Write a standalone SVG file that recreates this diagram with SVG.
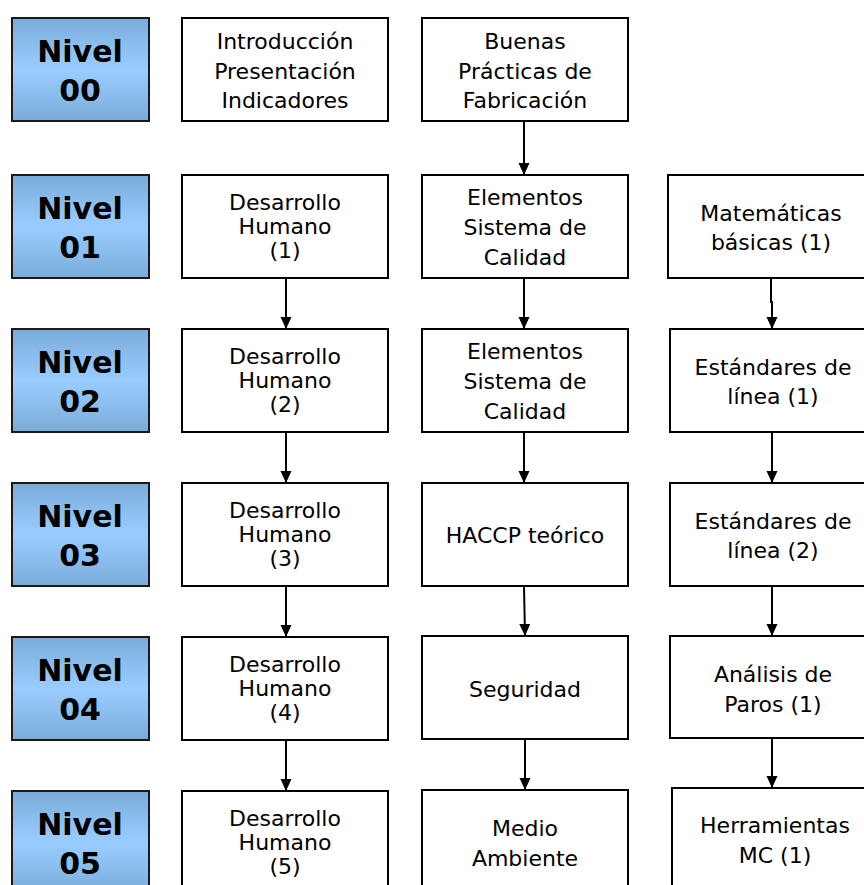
<svg xmlns="http://www.w3.org/2000/svg" width="864" height="885" viewBox="0 0 864 885">
<defs>
<linearGradient id="lv" x1="0" y1="0" x2="0" y2="1">
<stop offset="0" stop-color="#7aacd9"/>
<stop offset="0.5" stop-color="#9acdff"/>
<stop offset="1" stop-color="#7aacd9"/>
</linearGradient>
<marker id="ah" markerWidth="12" markerHeight="12" viewBox="0 0 12 12" refX="12" refY="6" orient="auto" markerUnits="userSpaceOnUse">
<path d="M0,0.5 L12,6 L0,11.5 Z" fill="#000"/>
</marker>
<style>
.lv rect{fill:url(#lv);stroke:#1a1a1a;stroke-width:2}
.lv text{font-family:"DejaVu Sans",Verdana,sans-serif;font-weight:bold;font-size:30px;text-anchor:middle;fill:#000}
.bx rect{fill:#fff;stroke:#000;stroke-width:2}
.bx text{font-family:"DejaVu Sans",Verdana,sans-serif;font-size:22px;text-anchor:middle;fill:#000}
#edges path{stroke:#000;stroke-width:2;fill:none;marker-end:url(#ah)}
</style>
</defs>
<rect width="864" height="885" fill="#fff"/>

<g id="nivel00" class="lv"><rect x="12" y="18" width="137" height="103"/><text x="80" y="62">Nivel</text><text x="80" y="101">00</text></g>
<g id="nivel01" class="lv"><rect x="12" y="175" width="137" height="103"/><text x="80" y="219">Nivel</text><text x="80" y="258">01</text></g>
<g id="nivel02" class="lv"><rect x="12" y="329" width="137" height="103"/><text x="80" y="373">Nivel</text><text x="80" y="412">02</text></g>
<g id="nivel03" class="lv"><rect x="12" y="483" width="137" height="103"/><text x="80" y="527">Nivel</text><text x="80" y="566">03</text></g>
<g id="nivel04" class="lv"><rect x="12" y="637" width="137" height="103"/><text x="80" y="681">Nivel</text><text x="80" y="720">04</text></g>
<g id="nivel05" class="lv"><rect x="12" y="791" width="137" height="103"/><text x="80" y="835">Nivel</text><text x="80" y="874">05</text></g>

<g id="intro" class="bx"><rect x="182" y="18" width="206" height="103"/><text x="285" y="49">Introducción</text><text x="285" y="79">Presentación</text><text x="285" y="108">Indicadores</text></g>
<g id="bpf" class="bx"><rect x="422" y="18" width="206" height="103"/><text x="525" y="49">Buenas</text><text x="525" y="79">Prácticas de</text><text x="525" y="108">Fabricación</text></g>

<g id="dh1" class="bx"><rect x="182" y="175" width="206" height="103"/><text x="285" y="210">Desarrollo</text><text x="285" y="234">Humano</text><text x="285" y="258">(1)</text></g>
<g id="esc1" class="bx"><rect x="422" y="175" width="206" height="103"/><text x="525" y="205">Elementos</text><text x="525" y="235">Sistema de</text><text x="525" y="265">Calidad</text></g>
<g id="mat1" class="bx"><rect x="668" y="175" width="210" height="103"/><text x="771" y="221">Matemáticas</text><text x="771" y="250">básicas (1)</text></g>

<g id="dh2" class="bx"><rect x="182" y="329" width="206" height="103"/><text x="285" y="364">Desarrollo</text><text x="285" y="388">Humano</text><text x="285" y="412">(2)</text></g>
<g id="esc2" class="bx"><rect x="422" y="329" width="206" height="103"/><text x="525" y="359">Elementos</text><text x="525" y="389">Sistema de</text><text x="525" y="419">Calidad</text></g>
<g id="est1" class="bx"><rect x="670" y="329" width="210" height="103"/><text x="773" y="375">Estándares de</text><text x="773" y="404">línea (1)</text></g>

<g id="dh3" class="bx"><rect x="182" y="483" width="206" height="103"/><text x="285" y="518">Desarrollo</text><text x="285" y="542">Humano</text><text x="285" y="566">(3)</text></g>
<g id="haccp" class="bx"><rect x="422" y="483" width="206" height="103"/><text x="525" y="543">HACCP teórico</text></g>
<g id="est2" class="bx"><rect x="670" y="483" width="210" height="103"/><text x="773" y="529">Estándares de</text><text x="773" y="558">línea (2)</text></g>

<g id="dh4" class="bx"><rect x="182" y="637" width="206" height="103"/><text x="285" y="672">Desarrollo</text><text x="285" y="696">Humano</text><text x="285" y="720">(4)</text></g>
<g id="seg" class="bx"><rect x="422" y="636" width="206" height="103"/><text x="525" y="697">Seguridad</text></g>
<g id="ap1" class="bx"><rect x="670" y="636" width="210" height="102"/><text x="773" y="682">Análisis de</text><text x="773" y="712">Paros (1)</text></g>

<g id="dh5" class="bx"><rect x="182" y="791" width="206" height="103"/><text x="285" y="826">Desarrollo</text><text x="285" y="850">Humano</text><text x="285" y="874">(5)</text></g>
<g id="ma" class="bx"><rect x="422" y="790" width="206" height="103"/><text x="525" y="836">Medio</text><text x="525" y="866">Ambiente</text></g>
<g id="hmc1" class="bx"><rect x="672" y="788" width="210" height="103"/><text x="775" y="833">Herramientas</text><text x="775" y="863">MC (1)</text></g>

<g id="edges">
<path d="M524,121 V175"/>
<path d="M286,278 V329"/>
<path d="M524,278 V329"/>
<path d="M771,278 V302 H772 V329"/>
<path d="M286,432 V483"/>
<path d="M524,432 V483"/>
<path d="M772,432 V483"/>
<path d="M286,586 V637"/>
<path d="M524,586 L525,636"/>
<path d="M772,586 V636"/>
<path d="M286,740 V791"/>
<path d="M525,739 V790"/>
<path d="M772,738 V788"/>
</g>
</svg>
